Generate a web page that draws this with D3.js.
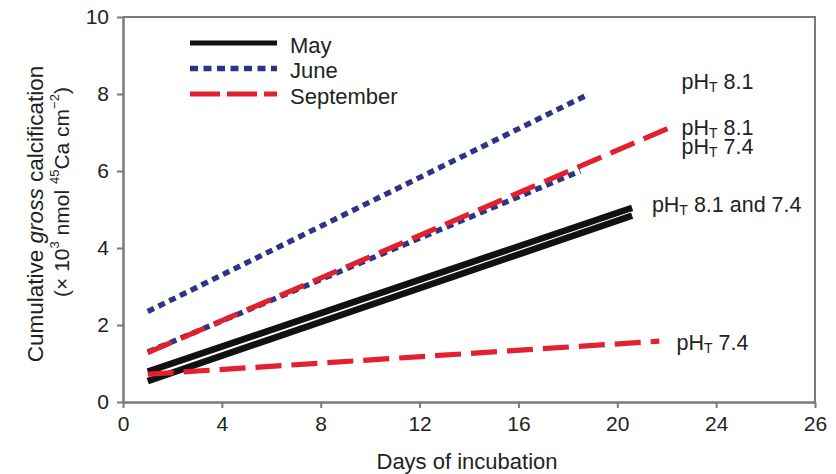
<!DOCTYPE html>
<html>
<head>
<meta charset="utf-8">
<script src="https://cdn.jsdelivr.net/npm/d3@7/dist/d3.min.js"></script>
<style>
  html, body { margin: 0; padding: 0; background: #fff; }
  svg { display: block; font-family: "Liberation Sans", Arial, sans-serif; }
</style>
</head>
<body>
<svg id="chart" width="836" height="474"></svg>
<script>
// ---- data ----
const lineMonths = ["May", "May", "June", "June", "September", "September"];
const linePH     = ["8.1", "7.4", "8.1", "7.4", "8.1", "7.4"];
const startDay   = [1, 1, 1, 1, 1, 1];
const endDay     = [20.6, 20.6, 18.7, 18.5, 22.2, 21.7];
const startValue = [0.79, 0.545, 2.35, 1.30, 1.28, 0.72];
const endValue   = [5.04, 4.84, 7.95, 6.00, 7.15, 1.58];

const legendMonths = ["May", "June", "September"];

const xTickValues = [0, 4, 8, 12, 16, 20, 24, 28];
const xTickLabels = ["0", "4", "8", "12", "16", "20", "24", "26"];
const yTickValues = [0, 2, 4, 6, 8, 10];

const annMain  = ["8.1", "8.1", "7.4", "8.1 and 7.4", "7.4"];
const annDay   = [22.6, 22.6, 22.6, 21.4, 22.4];
const annValue = [8.3, 7.12, 6.62, 5.12, 1.53];

// ---- styles ----
const styles = {
  "May":       { color: "#111111", width: 6.6, dash: null,     legendDash: null,    legendWidth: 5 },
  "June":      { color: "#2b3486", width: 5.4, dash: "7,5",    legendDash: "8,5.5", legendWidth: 5.4 },
  "September": { color: "#e2202e", width: 5.2, dash: "26,10",  legendDash: "30,7",  legendWidth: 5.2 }
};

const svg = d3.select("#chart");
const margin = { left: 123, right: 21, top: 17, bottom: 72 };
const W = 836, H = 474;

const x = d3.scaleLinear().domain([0, 28]).range([margin.left, W - margin.right]);
const y = d3.scaleLinear().domain([0, 10]).range([H - margin.bottom, margin.top]);

const axisColor = "#7a7a7a";
const textColor = "#222";

// frame (top and right)
svg.append("path")
  .attr("d", `M${x(0)},${y(10)}H${x(28)}V${y(0)}`)
  .attr("fill", "none").attr("stroke", axisColor).attr("stroke-width", 2);

// x axis
const xAxis = svg.append("g")
  .attr("transform", `translate(0,${y(0)})`)
  .call(d3.axisBottom(x).tickValues(xTickValues)
    .tickFormat((d, i) => xTickLabels[i]).tickSize(6).tickSizeOuter(0).tickPadding(8));
xAxis.select(".domain").attr("stroke", axisColor).attr("stroke-width", 2.5);
xAxis.selectAll(".tick line").attr("stroke", axisColor).attr("stroke-width", 2);
xAxis.selectAll(".tick text").attr("font-size", 21).attr("fill", textColor)
  .attr("font-family", "Liberation Sans, Arial, sans-serif");

// y axis
const yAxis = svg.append("g")
  .attr("transform", `translate(${x(0)},0)`)
  .call(d3.axisLeft(y).tickValues(yTickValues).tickSize(6).tickSizeOuter(0).tickPadding(8));
yAxis.select(".domain").attr("stroke", axisColor).attr("stroke-width", 2.5);
yAxis.selectAll(".tick line").attr("stroke", axisColor).attr("stroke-width", 2);
yAxis.selectAll(".tick text").attr("font-size", 21).attr("fill", textColor)
  .attr("font-family", "Liberation Sans, Arial, sans-serif");

// lines
const lineGen = d3.line().x(d => x(d[0])).y(d => y(d[1]));
const order = [3, 4, 2, 0, 1, 5];
order.forEach(i => {
  const st = styles[lineMonths[i]];
  const pts = [[startDay[i], startValue[i]], [endDay[i], endValue[i]]];
  if (lineMonths[i] === "May") {
    svg.append("path").attr("d", lineGen(pts)).attr("fill", "none")
      .attr("stroke", "#fff").attr("stroke-width", st.width + 1.4);
  }
  svg.append("path").attr("d", lineGen(pts)).attr("fill", "none")
    .attr("stroke", st.color).attr("stroke-width", st.width)
    .attr("stroke-dasharray", st.dash);
});

// legend
const legX0 = 190, legX1 = 277, legY0 = 43, legStep = 25.5;
legendMonths.forEach((m, i) => {
  const st = styles[m];
  const yy = legY0 + i * legStep;
  svg.append("line").attr("x1", legX0).attr("x2", legX1).attr("y1", yy).attr("y2", yy)
    .attr("stroke", st.color).attr("stroke-width", st.legendWidth)
    .attr("stroke-dasharray", st.legendDash);
  svg.append("text").attr("x", 290).attr("y", yy + 2).attr("dominant-baseline", "central")
    .attr("font-size", 22).attr("fill", textColor).text(m);
});

// annotations
annMain.forEach((t, i) => {
  const txt = svg.append("text").attr("x", x(annDay[i])).attr("y", y(annValue[i]))
    .attr("dominant-baseline", "central").attr("font-size", 21.5).attr("fill", textColor);
  txt.append("tspan").text("pH");
  txt.append("tspan").attr("font-size", 14).attr("dy", 5).text("T");
  txt.append("tspan").attr("dy", -5).text("\u00a0" + t);
});

// axis titles
svg.append("text").attr("x", 467).attr("y", 461)
  .attr("text-anchor", "middle").attr("dominant-baseline", "central")
  .attr("font-size", 22).attr("fill", textColor).text("Days of incubation");

const yt = svg.append("text").attr("transform", "translate(35,214) rotate(-90)")
  .attr("text-anchor", "middle").attr("dominant-baseline", "central")
  .attr("font-size", 22.5).attr("fill", textColor);
yt.append("tspan").text("Cumulative ");
yt.append("tspan").attr("font-style", "italic").text("gross");
yt.append("tspan").text(" calcification");

const yt2 = svg.append("text").attr("transform", "translate(61,192) rotate(-90)")
  .attr("text-anchor", "middle").attr("dominant-baseline", "central")
  .attr("font-size", 21).attr("fill", textColor);
yt2.append("tspan").text("(\u00d7 10");
yt2.append("tspan").attr("font-size", 13).attr("dy", -7).text("3");
yt2.append("tspan").attr("dy", 7).text(" nmol ");
yt2.append("tspan").attr("font-size", 13).attr("dy", -7).text("45");
yt2.append("tspan").attr("dy", 7).text("Ca cm");
yt2.append("tspan").attr("font-size", 13).attr("dy", -7).text("\u22122");
yt2.append("tspan").attr("dy", 7).text(")");
</script>
</body>
</html>
